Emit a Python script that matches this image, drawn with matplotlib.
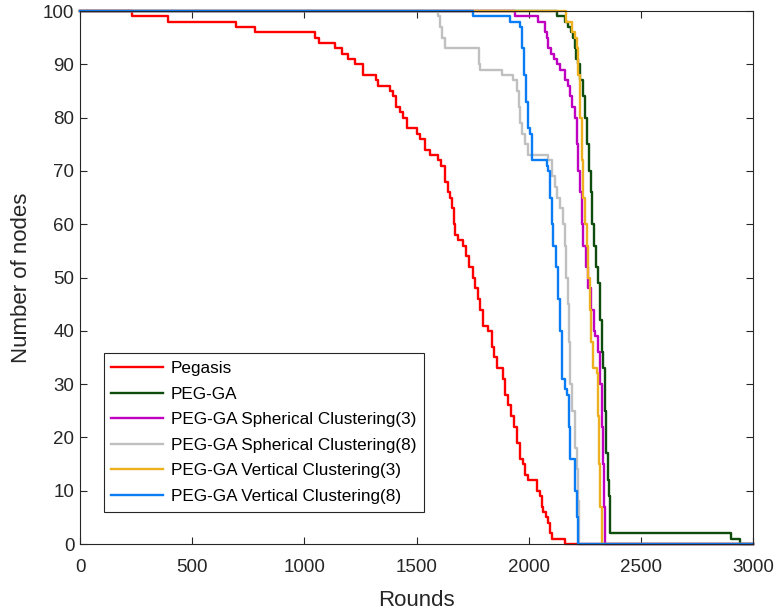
import matplotlib
matplotlib.use('Agg')
import matplotlib.pyplot as plt

plt.rcParams['font.family'] = ['Liberation Sans', 'DejaVu Sans']

# (round, alive nodes) breakpoints
pegasis_r = [0, 230, 390, 695, 780, 1047, 1065, 1137, 1166, 1196, 1226, 1263, 1318, 1330,
             1382, 1395, 1410, 1426, 1441, 1456, 1501, 1515, 1538, 1560, 1597, 1610, 1625,
             1640, 1650, 1657, 1665, 1672, 1686, 1708, 1720, 1735, 1750, 1761, 1775, 1783,
             1797, 1819, 1835, 1845, 1857, 1886, 1895, 1909, 1920, 1935, 1950, 1961, 1975,
             1985, 1997, 2037, 2050, 2058, 2065, 2075, 2086, 2095, 2103, 2162, 3000]
pegasis_n = [100, 99, 98, 97, 96, 95, 94, 93, 92, 91, 90, 88, 87, 86,
             85, 84, 82, 81, 80, 78, 77, 76, 74, 73, 72, 71, 68,
             66, 65, 63, 60, 58, 57, 56, 54, 52, 50, 48, 46, 44,
             41, 40, 37, 35, 33, 31, 28, 26, 24, 22, 19, 16, 15,
             13, 12, 10, 9, 7, 6, 5, 4, 2, 1, 0, 0]

pegga_r = [0, 2128, 2162, 2175, 2190, 2199, 2205, 2212, 2221, 2230, 2244, 2252, 2262, 2270,
           2277, 2284, 2291, 2300, 2311, 2318, 2325, 2330, 2338, 2345, 2352, 2358, 2362,
           2900, 2940, 3000]
pegga_n = [100, 99, 98, 97, 96, 95, 93, 91, 90, 87, 84, 80, 75, 70,
           66, 60, 56, 52, 49, 42, 36, 33, 25, 17, 12, 9, 2,
           1, 0, 0]

sph3_r = [0, 1939, 2043, 2073, 2080, 2088, 2100, 2115, 2125, 2140, 2162, 2175, 2184, 2195,
          2207, 2215, 2221, 2229, 2237, 2244, 2255, 2265, 2280, 2290, 2296, 2311, 2318,
          2325, 2330, 2336, 2340, 3000]
sph3_n = [100, 99, 98, 96, 95, 93, 92, 91, 90, 89, 87, 86, 84, 82,
          80, 75, 70, 66, 60, 56, 52, 48, 44, 40, 39, 36, 30,
          22, 15, 7, 0, 0]

sph8_r = [0, 1597, 1605, 1615, 1627, 1780, 1783, 1880, 1932, 1947, 1955, 1962, 1969, 1984,
          1998, 2085, 2103, 2117, 2125, 2140, 2155, 2162, 2168, 2175, 2180, 2186, 2195,
          2205, 2214, 2220, 2226, 3000]
sph8_n = [100, 99, 97, 95, 93, 90, 89, 88, 87, 85, 82, 79, 77, 75,
          73, 72, 69, 67, 65, 63, 60, 56, 50, 45, 38, 30, 25,
          18, 14, 8, 0, 0]

vert3_r = [0, 2166, 2193, 2207, 2214, 2220, 2228, 2236, 2244, 2252, 2259, 2266, 2273, 2280,
           2288, 2303, 2308, 2313, 2318, 2325, 3000]
vert3_n = [100, 98, 96, 95, 93, 88, 80, 72, 65, 60, 56, 50, 44, 38,
           33, 32, 24, 15, 7, 0, 0]

vert8_r = [0, 1753, 1917, 1961, 1970, 1980, 1990, 1999, 2005, 2013, 2080, 2088, 2095, 2103,
           2110, 2120, 2131, 2140, 2147, 2160, 2170, 2178, 2184, 2207, 2215, 2221, 3000]
vert8_n = [100, 99, 98, 97, 93, 88, 83, 78, 77, 72, 71, 70, 65, 60,
           56, 52, 46, 40, 31, 29, 28, 22, 16, 10, 5, 0, 0]

series = [
    ('Pegasis', pegasis_r, pegasis_n, '#FF0000'),
    ('PEG-GA', pegga_r, pegga_n, '#0E4D0E'),
    ('PEG-GA Spherical Clustering(3)', sph3_r, sph3_n, '#C000C0'),
    ('PEG-GA Spherical Clustering(8)', sph8_r, sph8_n, '#C0C0C0'),
    ('PEG-GA Vertical Clustering(3)', vert3_r, vert3_n, '#EDB120'),
    ('PEG-GA Vertical Clustering(8)', vert8_r, vert8_n, '#0A7CF5'),
]

fig = plt.figure(figsize=(7.8, 6.12), dpi=100)
ax = fig.add_axes([0.1026, 0.111, 0.8628, 0.871])

for label, r, n, c in series:
    ax.plot(r, n, drawstyle='steps-post', color=c, lw=1.7, label=label, clip_on=False)

ax.set_xlim(0, 3000)
ax.set_ylim(0, 100)
ax.set_xticks(range(0, 3001, 500))
ax.set_yticks(range(0, 101, 10))
ax.tick_params(direction='in', top=True, right=True, length=5, width=0.8,
               labelsize=13.5, colors='#262626', pad=4)
ax.tick_params(axis='x', pad=11)
for s in ax.spines.values():
    s.set_color('#262626')
    s.set_linewidth(0.8)

ax.set_xlabel('Rounds', fontsize=16, color='#262626', labelpad=10)
ax.set_ylabel('Number of nodes', fontsize=16, color='#262626', labelpad=8)

leg = ax.legend(loc='upper left', bbox_to_anchor=(0.035, 0.358), fontsize=12.3,
                fancybox=False, framealpha=1, edgecolor='#262626', handlelength=3.0,
                labelspacing=0.62, borderpad=0.45, handletextpad=0.5, borderaxespad=0)
leg.get_frame().set_linewidth(0.8)

fig.savefig('out.png', dpi=100)
